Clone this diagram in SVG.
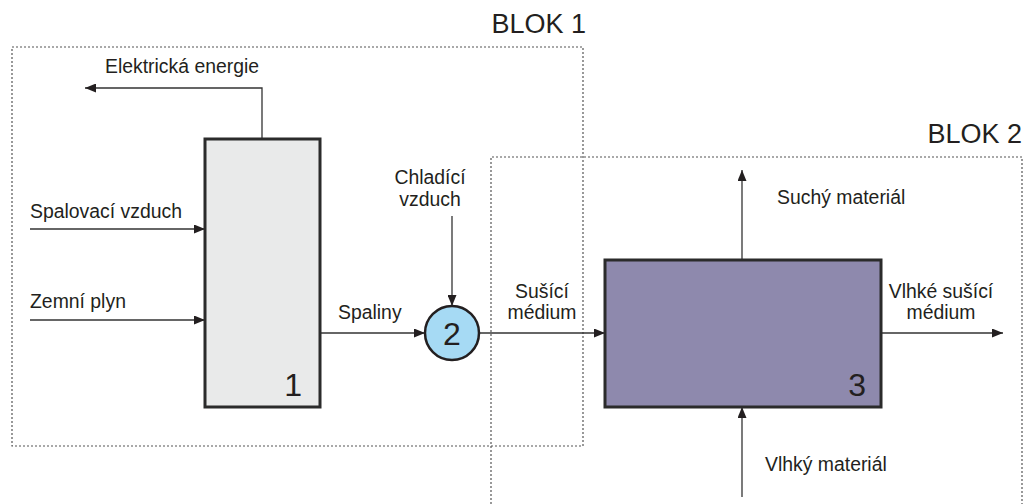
<svg xmlns="http://www.w3.org/2000/svg" width="1024" height="504" viewBox="0 0 1024 504">
<defs>
<marker id="ah" viewBox="0 0 11 9" refX="11" refY="4.5" markerWidth="11" markerHeight="9" markerUnits="userSpaceOnUse" orient="auto">
<path d="M0,0 L11,4.5 L0,9 Z" fill="#231f20"/>
</marker>
<style>
text{font-family:"Liberation Sans",Arial,sans-serif;fill:#231f20}
.lbl{font-size:19.4px}
.blk{font-size:27px}
.num{font-size:32px}
.line{fill:none;stroke:#333;stroke-width:1.3}
.arr{fill:none;stroke:#333;stroke-width:1.3;marker-end:url(#ah)}
.dot{fill:none;stroke:#555;stroke-width:1.2;stroke-dasharray:2 2}
</style>
</defs>
<rect width="1024" height="504" fill="#fff"/>
<g id="blok1">
<rect class="dot" x="12" y="47" width="571" height="399"/>
<text class="blk" x="586" y="33" text-anchor="end">BLOK 1</text>
</g>
<g id="blok2">
<polyline class="dot" points="491,504 491,157 1022,157 1022,504"/>
<text class="blk" x="1022" y="143" text-anchor="end">BLOK 2</text>
</g>
<g id="connectors">
<polyline class="arr" points="262,139 262,88 85,88"/>
<line class="arr" x1="30" y1="229" x2="205" y2="229"/>
<line class="arr" x1="30" y1="320" x2="205" y2="320"/>
<line class="arr" x1="320" y1="333" x2="425" y2="333"/>
<line class="arr" x1="452" y1="216" x2="452" y2="306"/>
<line class="arr" x1="479" y1="333" x2="605" y2="333"/>
<line class="arr" x1="742" y1="260" x2="742" y2="170"/>
<line class="arr" x1="881" y1="333" x2="1003" y2="333"/>
<line class="arr" x1="742" y1="497" x2="742" y2="407"/>
</g>
<g id="labels">
<text class="lbl" x="105" y="73">Elektrická energie</text>
<text class="lbl" x="30" y="218">Spalovací vzduch</text>
<text class="lbl" x="30" y="308">Zemní plyn</text>
<text class="lbl" x="338" y="319">Spaliny</text>
<text class="lbl" x="430" y="184" text-anchor="middle">Chladící</text>
<text class="lbl" x="430" y="206" text-anchor="middle">vzduch</text>
<text class="lbl" x="542" y="298" text-anchor="middle">Sušící</text>
<text class="lbl" x="542" y="319" text-anchor="middle">médium</text>
<text class="lbl" x="777" y="204">Suchý materiál</text>
<text class="lbl" x="941" y="298" text-anchor="middle">Vlhké sušící</text>
<text class="lbl" x="941" y="319" text-anchor="middle">médium</text>
<text class="lbl" x="765" y="471">Vlhký materiál</text>
</g>
<g id="node1">
<rect x="205" y="139" width="115" height="268" fill="#e9eaea" stroke="#2b2b2b" stroke-width="3"/>
<text class="num" x="302" y="396" text-anchor="end">1</text>
</g>
<g id="node2">
<circle cx="452" cy="333" r="27" fill="#a6daf4" stroke="#231f20" stroke-width="2.5"/>
<text class="num" x="452" y="345" text-anchor="middle">2</text>
</g>
<g id="node3">
<rect x="605" y="260" width="276" height="147" fill="#8e89ad" stroke="#2b2b2b" stroke-width="3"/>
<text class="num" x="866" y="396" text-anchor="end">3</text>
</g>
</svg>
